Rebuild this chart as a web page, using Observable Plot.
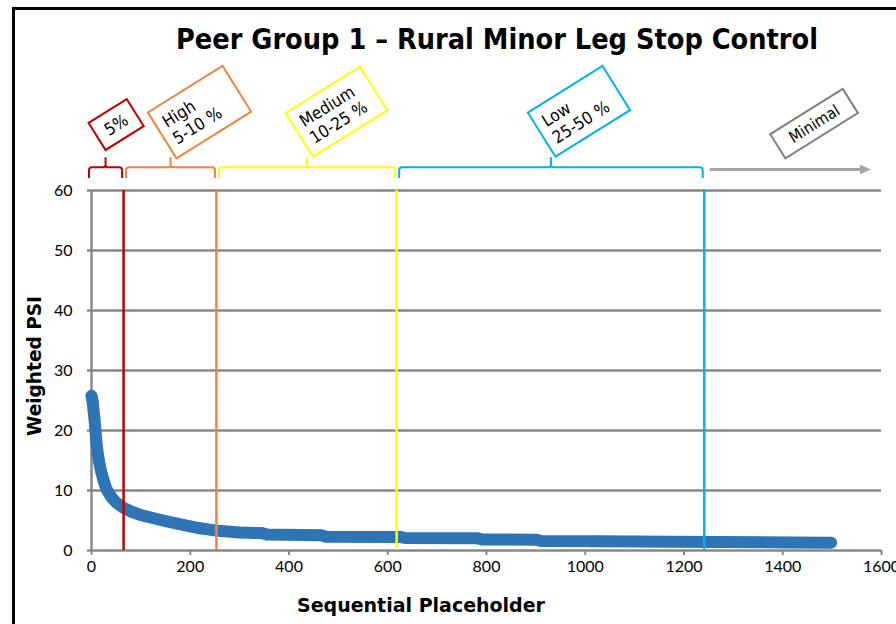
<!DOCTYPE html>
<html>
<head>
<meta charset="utf-8">
<script src="https://cdn.jsdelivr.net/npm/d3@7"></script>
<script src="https://cdn.jsdelivr.net/npm/@observablehq/plot@0.6"></script>
<style>
  html, body { margin: 0; padding: 0; background: #fff; }
  #chart svg { display: block; }
</style>
</head>
<body>
<div id="chart"></div>
<script>
// ---- data ----
const seqX = [0, 2, 4, 6, 8, 10, 13, 16, 20, 25, 30, 40, 50, 65, 80, 100, 120, 150, 190, 220, 250, 300, 345, 355, 465, 475, 625, 635, 780, 790, 900, 910, 1030, 1170, 1410, 1498];
const psiY = [25.8, 25, 23.5, 22, 20, 18, 16, 14.5, 13, 11.5, 10.3, 8.9, 8.0, 7.1, 6.5, 5.9, 5.5, 4.9, 4.2, 3.7, 3.35, 3.0, 2.9, 2.65, 2.55, 2.3, 2.25, 2.1, 2.05, 1.85, 1.8, 1.6, 1.55, 1.45, 1.35, 1.3];
const bandEdges = [0, 65, 253, 618, 1241];
const bandLabels = [["5%"], ["High", "5-10 %"], ["Medium", "10-25 %"], ["Low", "25-50 %"]];
const minimalLabel = "Minimal";
const xTicks = [0, 200, 400, 600, 800, 1000, 1200, 1400, 1600];
const yTicks = [0, 10, 20, 30, 40, 50, 60];
const titleText = "Peer Group 1 \u2013 Rural Minor Leg Stop Control";
const xTitle = "Sequential Placeholder";
const yTitle = "Weighted PSI";

// ---- styles ----
const bandColors = ["#C00000", "#F0843C", "#FFFF00", "#00B0F0"];
const minimalColor = "#7F7F7F";
const arrowColor = "#A6A6A6";
const gridColor = "#878787";
const dataColor = "#2E75B6";
const headFont = "'DejaVu Sans Condensed', 'DejaVu Sans', sans-serif";

const curve = seqX.map((x, i) => ({x, y: psiY[i]}));
const edgeRules = bandEdges.slice(1).map((x, i) => ({x, c: bandColors[i]}));

const chart = Plot.plot({
  width: 896,
  height: 624,
  marginLeft: 91,
  marginRight: 15,
  marginTop: 190,
  marginBottom: 74,
  style: {fontFamily: "Lato, sans-serif", fontSize: "16px", color: "#000", background: "transparent"},
  x: {domain: [0, 1600], label: null},
  y: {domain: [0, 60], label: null},
  marks: [
    Plot.ruleY(yTicks, {stroke: gridColor, strokeWidth: 2.5}),
    Plot.ruleX([0], {y1: 0, y2: 60, stroke: gridColor, strokeWidth: 2.5}),
    Plot.axisX({ticks: xTicks, tickSize: 5, tickPadding: 5, stroke: gridColor, strokeWidth: 2, tickFormat: d => String(d), label: null, fontSize: 16}),
    Plot.axisY({ticks: yTicks, tickSize: 4, tickPadding: 15, stroke: gridColor, strokeWidth: 2.5, label: null, fontSize: 16}),
    Plot.line(curve, {x: "x", y: "y", stroke: dataColor, strokeWidth: 12, strokeLinejoin: "round", strokeLinecap: "round"}),
    Plot.dot(curve, {x: "x", y: "y", symbol: "diamond2", r: 5.6, fill: dataColor, stroke: "none"}),
    ...edgeRules.map(e => Plot.ruleX([e.x], {y1: 0, y2: 60, stroke: e.c, strokeWidth: 2.5}))
  ]
});

document.getElementById("chart").appendChild(chart);

const svg = d3.select(chart);
const xs = chart.scale("x");
const X = v => xs.apply(v);

// outer frame
svg.append("rect").attr("x", 13.5).attr("y", 8.5).attr("width", 1000).attr("height", 1000)
  .attr("fill", "none").attr("stroke", "#000").attr("stroke-width", 3);

// title
svg.append("text").attr("x", 497).attr("y", 49).attr("text-anchor", "middle")
  .attr("font-family", headFont).attr("font-weight", "bold").attr("font-size", 28)
  .attr("textLength", 642).attr("lengthAdjust", "spacingAndGlyphs").text(titleText);

// axis titles
svg.append("text").attr("x", 421).attr("y", 611.5).attr("text-anchor", "middle")
  .attr("font-family", headFont).attr("font-weight", "bold").attr("font-size", 20)
  .attr("textLength", 248).attr("lengthAdjust", "spacingAndGlyphs").text(xTitle);
svg.append("text").attr("transform", "translate(41,366) rotate(-90)").attr("text-anchor", "middle")
  .attr("font-family", headFont).attr("font-weight", "bold").attr("font-size", 20)
  .attr("textLength", 140).attr("lengthAdjust", "spacingAndGlyphs").text(yTitle);

// brackets
const yLine = 167.3, yEnd = 178, yTick = 157.3;
const tickXs = [];
for (let i = 0; i < bandEdges.length - 1; i++) {
  const x0 = i === 0 ? X(bandEdges[i]) - 2 : X(bandEdges[i]) + 3;
  const x1 = X(bandEdges[i + 1]) - 1;
  const cx = (x0 + x1) / 2;
  tickXs.push(cx);
  const p = `M${x0},${yEnd} L${x0},${yLine + 3} Q${x0},${yLine} ${x0 + 3},${yLine} L${cx - 2.5},${yLine} Q${cx},${yLine} ${cx},${yLine - 2.5} L${cx},${yTick} M${cx},${yLine - 2.5} Q${cx},${yLine} ${cx + 2.5},${yLine} L${x1 - 3},${yLine} Q${x1},${yLine} ${x1},${yLine + 3} L${x1},${yEnd}`;
  svg.append("path").attr("d", p).attr("fill", "none").attr("stroke", bandColors[i]).attr("stroke-width", 2);
}

// minimal arrow
const ax0 = X(bandEdges[bandEdges.length - 1]) + 6, ax1 = 871, ay = 169.5;
svg.append("line").attr("x1", ax0).attr("x2", ax1 - 9).attr("y1", ay).attr("y2", ay)
  .attr("stroke", arrowColor).attr("stroke-width", 3);
svg.append("path").attr("d", `M${ax1 - 11},${ay - 4.8} L${ax1},${ay} L${ax1 - 11},${ay + 4.8} Z`).attr("fill", arrowColor);

// rotated label boxes
const theta = -32;
const c = Math.cos(theta * Math.PI / 180), s = Math.sin(theta * Math.PI / 180);
function box(bx, by, w, h, color, lines, centered, fs) {
  // (bx,by) is the bottom corner of the rotated box
  const lx = -w / 2, ly = h / 2;
  const ox = lx * c - ly * s, oy = lx * s + ly * c;
  const cx = bx - ox, cy = by - oy;
  const g = svg.append("g").attr("transform", `translate(${cx},${cy}) rotate(${theta})`);
  g.append("rect").attr("x", -w / 2).attr("y", -h / 2).attr("width", w).attr("height", h)
    .attr("fill", "#fff").attr("stroke", color).attr("stroke-width", 2);
  const lh = fs * 1.15;
  const t = g.append("text").attr("font-family", headFont).attr("font-size", fs).attr("fill", "#000")
    .attr("text-anchor", centered ? "middle" : "start");
  lines.forEach((ln, i) => {
    t.append("tspan").attr("x", centered ? 0 : -w / 2 + 8)
      .attr("y", (i - (lines.length - 1) / 2) * lh + fs * 0.36).text(ln);
  });
}
const boxDims = [[45, 32, 0, 150], [88, 54, 6, 158.3], [87.5, 51.5, 6, 156.7], [88, 52, 4.5, 156.7]];
bandLabels.forEach((lines, i) => {
  const [w, h, dx, by] = boxDims[i];
  box(tickXs[i] + dx, by, w, h, bandColors[i], lines, i === 0, 17);
});
box((ax0 + ax1) / 2 - 5, 158.3, 85.5, 28.5, minimalColor, [minimalLabel], true, 16);
</script>
</body>
</html>
